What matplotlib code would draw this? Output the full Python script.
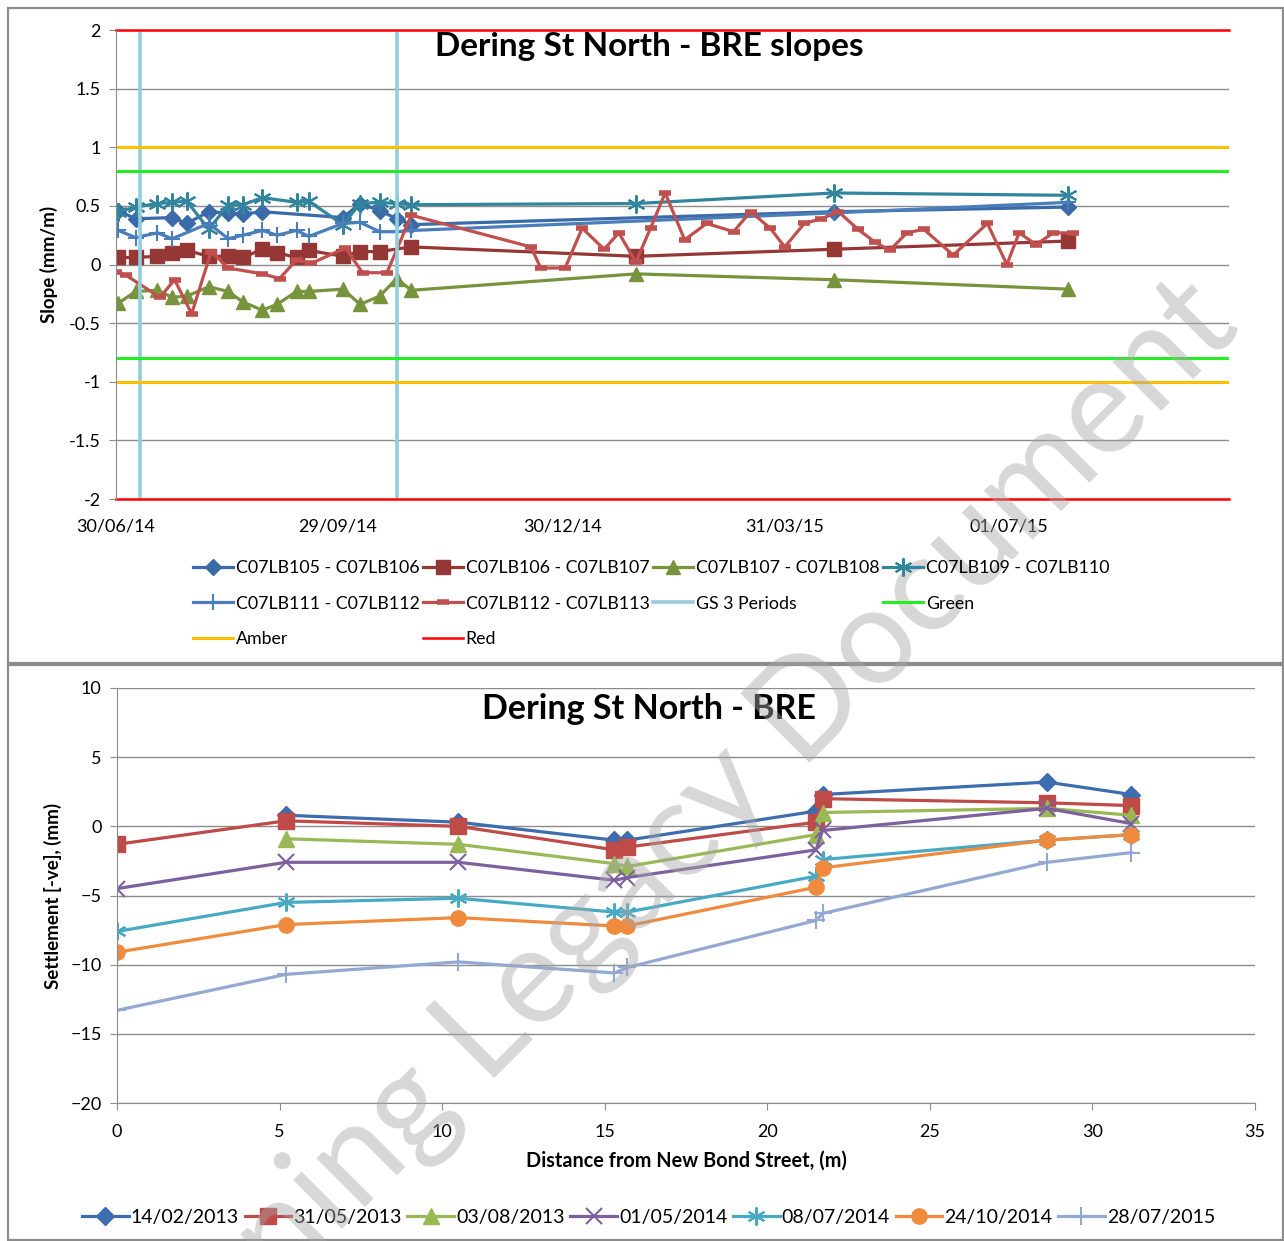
import numpy as np
import matplotlib
matplotlib.use('Agg')
import matplotlib.pyplot as plt
import matplotlib.dates as mdates
from matplotlib.patches import Rectangle

plt.rcParams['font.family'] = ['Lato', 'DejaVu Sans']

# ---- top chart data (days after 30/06/14) ----
start = np.datetime64('2014-06-30')

d_105 = [1, 8, 23, 29, 38, 46, 52, 60, 93, 100, 108, 115, 121, 294, 390]
v_105 = [0.46, 0.39, 0.40, 0.35, 0.45, 0.44, 0.43, 0.45, 0.40, 0.52, 0.46, 0.39, 0.34, 0.45, 0.49]

d_106 = [1, 8, 17, 23, 29, 38, 46, 52, 60, 66, 74, 79, 93, 100, 108, 121, 213, 294, 390]
v_106 = [0.06, 0.06, 0.07, 0.10, 0.12, 0.07, 0.07, 0.06, 0.13, 0.10, 0.06, 0.12, 0.07, 0.11, 0.11,
         0.15, 0.07, 0.13, 0.20]

d_107 = [1, 8, 17, 23, 29, 38, 46, 52, 60, 66, 74, 79, 93, 100, 108, 115, 121, 213, 294, 390]
v_107 = [-0.33, -0.23, -0.22, -0.28, -0.27, -0.19, -0.23, -0.32, -0.39, -0.34, -0.23, -0.23, -0.21,
         -0.34, -0.27, -0.12, -0.22, -0.08, -0.13, -0.21]

d_109 = [1, 8, 17, 23, 29, 38, 46, 52, 60, 74, 79, 93, 100, 108, 115, 121, 213, 294, 390]
v_109 = [0.45, 0.49, 0.52, 0.53, 0.54, 0.30, 0.51, 0.51, 0.57, 0.53, 0.54, 0.34, 0.52, 0.53, 0.52,
         0.51, 0.52, 0.61, 0.59]

d_111 = [1, 8, 17, 23, 38, 46, 52, 60, 66, 74, 79, 93, 100, 108, 115, 121, 294, 390]
v_111 = [0.29, 0.23, 0.27, 0.22, 0.35, 0.22, 0.25, 0.29, 0.25, 0.29, 0.24, 0.35, 0.36, 0.28, 0.28,
         0.29, 0.44, 0.53]

d_112 = [0, 4, 18, 24, 31, 39, 46, 60, 67, 74, 80, 94, 101, 111, 121, 170, 174, 184, 191, 200, 206,
         213, 219, 225, 233, 242, 253, 260, 268, 274, 282, 289, 296, 304, 311, 317, 324, 331, 343,
         357, 365, 370, 377, 384, 392]
v_112 = [-0.06, -0.09, -0.28, -0.13, -0.42, 0.11, -0.03, -0.08, -0.12, 0.04, 0.01, 0.14, -0.07,
         -0.07, 0.42, 0.15, -0.03, -0.03, 0.31, 0.13, 0.27, 0.02, 0.31, 0.61, 0.21, 0.35, 0.28,
         0.45, 0.31, 0.15, 0.35, 0.39, 0.45, 0.30, 0.19, 0.12, 0.27, 0.30, 0.08, 0.35, 0.00, 0.27,
         0.17, 0.27, 0.27]

gs3_days = [10, 115]
green_lim = 0.8
amber_lim = 1.0
red_lim = 2.0
date_ticks = ['2014-06-30', '2014-09-29', '2014-12-30', '2015-03-31', '2015-07-01']

# ---- bottom chart data ----
dist = [0, 5.2, 10.5, 15.3, 15.7, 21.5, 21.7, 28.6, 31.2]
s_140213 = [np.nan, 0.8, 0.3, -1.0, -1.0, 1.1, 2.3, 3.2, 2.3]
s_310513 = [-1.3, 0.4, 0.0, -1.7, -1.5, 0.3, 2.0, 1.7, 1.5]
s_030813 = [np.nan, -0.9, -1.3, -2.7, -2.9, -0.6, 1.0, 1.3, 0.8]
s_010514 = [-4.5, -2.6, -2.6, -3.9, -3.7, -1.7, -0.3, 1.3, 0.2]
s_080714 = [-7.6, -5.5, -5.2, -6.2, -6.2, -3.6, -2.4, -1.0, -0.6]
s_241014 = [-9.1, -7.1, -6.6, -7.2, -7.2, -4.4, -3.0, -1.0, -0.6]
s_280715 = [-13.3, -10.7, -9.8, -10.6, -10.2, -6.8, -6.3, -2.6, -1.9]


def days(d):
    return start + np.array(d, dtype='timedelta64[D]')


fig = plt.figure(figsize=(12.84, 12.41), dpi=100)
W, H = 1284.0, 1241.0

# chart frames
fig.patches.append(Rectangle((8 / W, 1 - 663 / H), 1275 / W, 655 / H, transform=fig.transFigure,
                             fill=False, ec='#8c8c8c', lw=1.6))
fig.patches.append(Rectangle((8 / W, 1 - 1240 / H), 1275 / W, 575 / H, transform=fig.transFigure,
                             fill=False, ec='#8c8c8c', lw=1.6))

grid_c = '#8c8c8c'

# ================= top chart =================
ax = fig.add_axes([116 / W, 1 - 499 / H, 1113 / W, 469 / H])
lw = 2.3
h1, = ax.plot(days(d_105), v_105, color='#3A6AA8', lw=lw, marker='D', ms=8, label='C07LB105 - C07LB106')
h2, = ax.plot(days(d_106), v_106, color='#953735', lw=lw, marker='s', ms=10, label='C07LB106 - C07LB107')
h3, = ax.plot(days(d_107), v_107, color='#77933C', lw=lw, marker='^', ms=10, label='C07LB107 - C07LB108')
h4, = ax.plot(days(d_109), v_109, color='#31859C', lw=lw, marker=(6, 2, 0), ms=13, mew=1.5,
              label='C07LB109 - C07LB110')
h5, = ax.plot(days(d_111), v_111, color='#4A7EBB', lw=lw, marker='+', ms=12, mew=1.5,
              label='C07LB111 - C07LB112')
h6, = ax.plot(days(d_112), v_112, color='#C0504D', lw=lw, marker='_', ms=9, mew=4,
              label='C07LB112 - C07LB113')
gs_lines = [ax.axvline(days([d])[0], color='#93CDDD', lw=2.6) for d in gs3_days]
hg = gs_lines[0]
hg.set_label('GS 3 Periods')
hgr = ax.axhline(green_lim, color='#22EE22', lw=2.2, label='Green')
ax.axhline(-green_lim, color='#22EE22', lw=2.2)
ham = ax.axhline(amber_lim, color='#FFC000', lw=2.2, label='Amber')
ax.axhline(-amber_lim, color='#FFC000', lw=2.2)
hre = ax.axhline(red_lim, color='#FF0000', lw=1.8, label='Red', clip_on=False)
ax.axhline(-red_lim, color='#FF0000', lw=1.8, clip_on=False)

ax.set_ylim(-2, 2)
ax.set_yticks(np.arange(-2, 2.01, 0.5))
ax.set_yticklabels(['-2', '-1.5', '-1', '-0.5', '0', '0.5', '1', '1.5', '2'])
ax.set_xlim(start, start + np.timedelta64(456, 'D'))
ax.set_xticks([np.datetime64(t) for t in date_ticks])
ax.xaxis.set_major_formatter(mdates.DateFormatter('%d/%m/%y'))
ax.grid(axis='y', color=grid_c, lw=1)
ax.set_axisbelow(True)
for s in ['top', 'right', 'bottom']:
    ax.spines[s].set_visible(False)
ax.spines['left'].set_color(grid_c)
ax.tick_params(axis='y', labelsize=13, length=5, color=grid_c, pad=6)
ax.tick_params(axis='x', labelsize=13, length=0, pad=14)
ax.set_ylabel('Slope (mm/m)', fontsize=13.5, fontweight='bold', labelpad=8)
ax.text(0.479, 0.965, 'Dering St North - BRE slopes', transform=ax.transAxes, ha='center', va='center',
        fontsize=24, fontweight='bold')

hs = [h1, h5, ham, h2, h6, hre, h3, hg, h4, hgr]
fig.legend(handles=hs, loc='upper left', bbox_to_anchor=(193 / W, 1 - 560 / H), ncol=4, frameon=False,
           fontsize=12.8, handlelength=2.25, handletextpad=0.15, columnspacing=0.2, labelspacing=1.1,
           borderaxespad=0, borderpad=0)

# ================= bottom chart =================
bx = fig.add_axes([117 / W, 1 - 1103 / H, 1138 / W, 415 / H])
bl = 2.3
bx.plot(dist, s_140213, color='#3D6DAE', lw=bl, marker='D', ms=9, label='14/02/2013')
bx.plot(dist, s_310513, color='#BE4B48', lw=bl, marker='s', ms=11, label='31/05/2013')
bx.plot(dist, s_030813, color='#98B954', lw=bl, marker='^', ms=11, label='03/08/2013')
bx.plot(dist, s_010514, color='#7D60A0', lw=bl, marker='x', ms=11, mew=1.5, label='01/05/2014')
bx.plot(dist, s_080714, color='#46AAC5', lw=bl, marker=(6, 2, 0), ms=13, mew=1.5, label='08/07/2014')
bx.plot(dist, s_241014, color='#F08A3C', lw=bl, marker='o', ms=11, label='24/10/2014')
bx.plot(dist, s_280715, color='#93A9D3', lw=bl, marker='+', ms=13, mew=1.5, label='28/07/2015')

bx.set_xlim(0, 35)
bx.set_ylim(-20, 10)
bx.set_xticks(np.arange(0, 36, 5))
bx.set_yticks(np.arange(-20, 11, 5))
bx.grid(axis='y', color=grid_c, lw=1)
bx.set_axisbelow(True)
for s in ['top', 'right']:
    bx.spines[s].set_visible(False)
bx.spines['left'].set_color(grid_c)
bx.spines['bottom'].set_color(grid_c)
bx.tick_params(labelsize=13, length=5, color=grid_c, pad=6)
bx.tick_params(axis='x', pad=10)
bx.set_xlabel('Distance from New Bond Street, (m)', fontsize=14.3, fontweight='bold', labelpad=8)
bx.set_ylabel('Settlement [-ve], (mm)', fontsize=13.5, fontweight='bold', labelpad=6)
bx.text((649 - 117) / 1138, 0.95, 'Dering St North - BRE', transform=bx.transAxes, ha='center',
        va='center', fontsize=24.5, fontweight='bold')
bx.legend(loc='center left', bbox_to_anchor=(82 / W, 1 - 1217 / H), bbox_transform=fig.transFigure,
          ncol=7, frameon=False, fontsize=14, handlelength=2.4, handletextpad=0.1, columnspacing=0.3,
          borderaxespad=0, borderpad=0)

# watermark
fig.text(0.503, 0.296, 'Warning Legacy Document', rotation=45, fontsize=97, color='#a6a6a6',
         alpha=0.45, ha='center', va='center', rotation_mode='anchor')

fig.savefig('out.png', dpi=100)
